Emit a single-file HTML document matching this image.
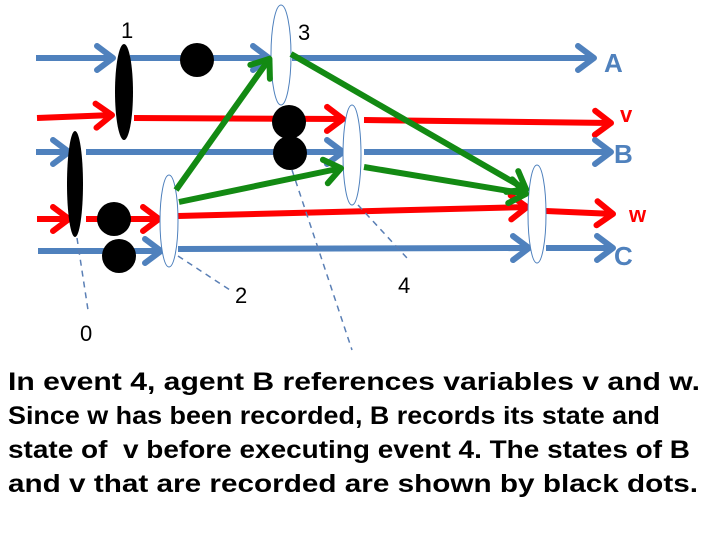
<!DOCTYPE html>
<html><head><meta charset="utf-8"><style>
html,body{margin:0;padding:0;background:#fff;}
svg{display:block;}
</style></head><body>
<svg width="720" height="540" viewBox="0 0 720 540">
<defs>
<marker id="hb" markerUnits="userSpaceOnUse" markerWidth="26" markerHeight="32" refX="21" refY="16" orient="auto"><path d="M4,4 L20,16 L4,28" fill="none" stroke="#4f81bd" stroke-width="6" stroke-linecap="round" stroke-linejoin="round"/></marker>
<marker id="hr" markerUnits="userSpaceOnUse" markerWidth="26" markerHeight="32" refX="21" refY="16" orient="auto"><path d="M4,4 L20,16 L4,28" fill="none" stroke="#ff0000" stroke-width="6" stroke-linecap="round" stroke-linejoin="round"/></marker>
<marker id="hg" markerUnits="userSpaceOnUse" markerWidth="26" markerHeight="32" refX="21" refY="16" orient="auto"><path d="M4,4 L20,16 L4,28" fill="none" stroke="#138a13" stroke-width="6" stroke-linecap="round" stroke-linejoin="round"/></marker>
</defs>
<g stroke-width="6" fill="none">
<line x1="36" y1="58" x2="114" y2="58" stroke="#4f81bd" marker-end="url(#hb)"/>
<line x1="130" y1="58" x2="270" y2="58" stroke="#4f81bd" marker-end="url(#hb)"/>
<line x1="292" y1="58" x2="595" y2="58" stroke="#4f81bd" marker-end="url(#hb)"/>
<line x1="37" y1="118" x2="113" y2="115" stroke="#ff0000" marker-end="url(#hr)"/>
<line x1="134" y1="118" x2="344" y2="119" stroke="#ff0000" marker-end="url(#hr)"/>
<line x1="364" y1="120" x2="612" y2="123" stroke="#ff0000" marker-end="url(#hr)"/>
<line x1="36" y1="152" x2="70" y2="152" stroke="#4f81bd" marker-end="url(#hb)"/>
<line x1="86" y1="152" x2="344" y2="152" stroke="#4f81bd" marker-end="url(#hb)"/>
<line x1="364" y1="152" x2="612" y2="152" stroke="#4f81bd" marker-end="url(#hb)"/>
<line x1="37" y1="219" x2="70" y2="219" stroke="#ff0000" marker-end="url(#hr)"/>
<line x1="86" y1="219" x2="160" y2="219" stroke="#ff0000" marker-end="url(#hr)"/>
<line x1="178" y1="216" x2="528" y2="207" stroke="#ff0000" marker-end="url(#hr)"/>
<line x1="546" y1="211" x2="614" y2="214" stroke="#ff0000" marker-end="url(#hr)"/>
<line x1="38" y1="251" x2="162" y2="251" stroke="#4f81bd" marker-end="url(#hb)"/>
<line x1="178" y1="249" x2="530" y2="248" stroke="#4f81bd" marker-end="url(#hb)"/>
<line x1="546" y1="248" x2="614" y2="248" stroke="#4f81bd" marker-end="url(#hb)"/>
</g>
<g stroke="#5a7fb5" stroke-width="1.5" stroke-dasharray="6,5" fill="none">
<line x1="77" y1="238" x2="88" y2="310"/>
<line x1="178" y1="256" x2="230" y2="290"/>
<line x1="292" y1="170" x2="352" y2="350"/>
<line x1="358" y1="205" x2="407" y2="258"/>
</g>
<g fill="#000">
<circle cx="197" cy="60" r="17"/>
<circle cx="289" cy="122" r="17"/>
<circle cx="290" cy="153" r="17"/>
<circle cx="114" cy="219" r="17"/>
<circle cx="119" cy="256" r="17"/>
</g>
<ellipse cx="124" cy="92" rx="9" ry="48" fill="#000"/>
<ellipse cx="75" cy="184" rx="8" ry="53" fill="#000"/>
<g fill="#fff" stroke="#4f81bd" stroke-width="1">
<ellipse cx="281" cy="55" rx="10" ry="50"/>
<ellipse cx="352" cy="155" rx="9" ry="50"/>
<ellipse cx="169" cy="221" rx="9" ry="46"/>
<ellipse cx="537" cy="214" rx="9" ry="49"/>
</g>
<g stroke="#138a13" stroke-width="6" fill="none">
<line x1="176" y1="190" x2="270" y2="58" marker-end="url(#hg)"/>
<line x1="179" y1="202" x2="342" y2="168" marker-end="url(#hg)"/>
<line x1="291" y1="54" x2="527" y2="190" marker-end="url(#hg)"/>
<line x1="364" y1="167" x2="527" y2="194" marker-end="url(#hg)"/>
</g>
<g font-family="Liberation Sans, sans-serif" font-size="22" fill="#000">
<text x="121" y="38">1</text>
<text x="298" y="40">3</text>
<text x="235" y="303">2</text>
<text x="80" y="341">0</text>
<text x="398" y="293">4</text>
</g>
<g font-family="Liberation Sans, sans-serif" font-weight="bold" font-size="26">
<text x="604" y="72" fill="#4f81bd">A</text>
<text x="620" y="122" fill="#ff0000" font-size="22">v</text>
<text x="614" y="163" fill="#4f81bd">B</text>
<text x="629" y="222" fill="#ff0000" font-size="22">w</text>
<text x="614" y="265" fill="#4f81bd">C</text>
</g>
<g font-family="Liberation Sans, sans-serif" font-weight="bold" font-size="25" fill="#000">
<text x="8" y="390" textLength="692" lengthAdjust="spacingAndGlyphs">In event 4, agent B references variables v and w.</text>
<text x="8" y="424" textLength="652" lengthAdjust="spacingAndGlyphs">Since w has been recorded, B records its state and</text>
<text x="8" y="458" textLength="682" lengthAdjust="spacingAndGlyphs">state of &#160;v before executing event 4. The states of B</text>
<text x="8" y="492" textLength="690" lengthAdjust="spacingAndGlyphs">and v that are recorded are shown by black dots.</text>
</g>
</svg>
</body></html>
